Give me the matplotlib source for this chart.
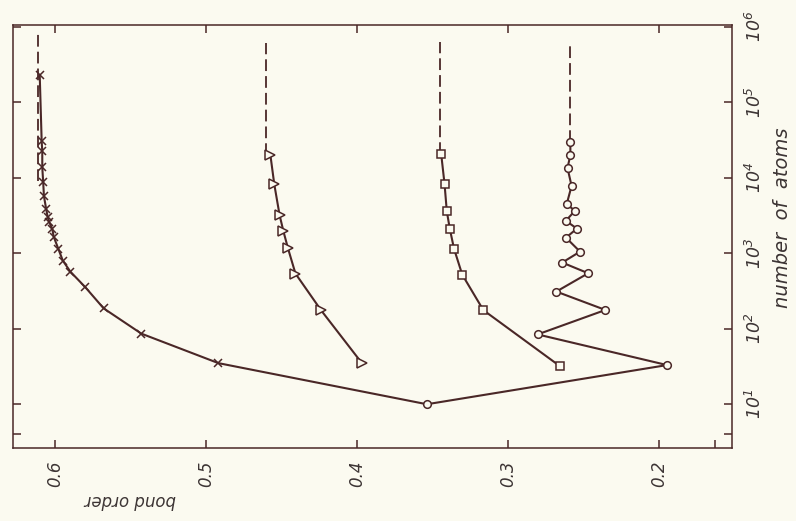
import matplotlib
matplotlib.use("Agg")
import matplotlib.pyplot as plt
import numpy as np
from matplotlib.ticker import FixedLocator

# crosses: number of atoms / bond order
cross_n = np.array([35, 86, 186, 352, 569, 796, 1143, 1644, 2092, 2580, 3000,
                    3800, 5690, 8700, 13700, 22300, 30100, 229000])
cross_b = np.array([0.492, 0.543, 0.568, 0.580, 0.590, 0.595, 0.598, 0.601, 0.602,
                    0.604, 0.605, 0.606, 0.6075, 0.608, 0.6086, 0.6086, 0.609, 0.6103])

# triangles
tri_n = np.array([35, 175, 537, 1170, 1960, 3190, 8130, 20000])
tri_b = np.array([0.397, 0.424, 0.441, 0.446, 0.449, 0.4515, 0.455, 0.4576])

# squares
sq_n = np.array([32, 176, 520, 1140, 2090, 3580, 8240, 20400])
sq_b = np.array([0.266, 0.3166, 0.3306, 0.336, 0.3388, 0.3408, 0.3423, 0.3445])

# circles (first point shared with the cross curve)
circ_n = np.array([10, 33, 84, 177, 310, 542, 751, 1047, 1603, 2114, 2685, 3630,
                   4470, 7770, 13400, 19900, 29600])
circ_b = np.array([0.354, 0.195, 0.2807, 0.2358, 0.2683, 0.2472, 0.2644, 0.2526,
                   0.2619, 0.2547, 0.262, 0.256, 0.2614, 0.2582, 0.2609, 0.259, 0.259])

# dashed limits for N -> infinity
asym_b = [0.6115, 0.4605, 0.345, 0.2593]
asym_lo = [8900, 20000, 20400, 29600]
asym_hi = [890000, 600000, 630000, 560000]

bond_ticks = [0.6, 0.5, 0.4, 0.3, 0.2]
atom_ticks = [1e1, 1e2, 1e3, 1e4, 1e5, 1e6]
atom_labels = ['$10^{1}$', '$10^{2}$', '$10^{3}$', '$10^{4}$', '$10^{5}$', '$10^{6}$']

bg = '#fbfaf0'
ink = '#4a2727'
txt = '#3c3434'

plt.rcParams['font.family'] = ['DejaVu Sans']
plt.rcParams['font.style'] = 'italic'
plt.rcParams['mathtext.default'] = 'it'

fig = plt.figure(figsize=(7.96, 5.21), dpi=100, facecolor=bg)
ax = fig.add_axes([0.0163, 0.14, 0.9033, 0.812])
ax.set_facecolor(bg)

lw = 1.5
dash = (6.5, 2.8)

# cross curve starts from the 10-atom circle
ax.plot(np.concatenate([[circ_b[0]], cross_b]), np.concatenate([[circ_n[0]], cross_n]),
        color=ink, lw=lw, zorder=2)
ax.plot(cross_b, cross_n, ls='none', marker='x', ms=6, mew=1.1, color=ink, zorder=3)

ax.plot(tri_b, tri_n, color=ink, lw=lw, marker='>', ms=7, mew=1.1, mfc=bg, mec=ink, zorder=3)
ax.plot(sq_b, sq_n, color=ink, lw=lw, marker='s', ms=6, mew=1.1, mfc=bg, mec=ink, zorder=3)
ax.plot(circ_b, circ_n, color=ink, lw=lw, marker='o', ms=5.5, mew=1.1, mfc=bg, mec=ink, zorder=3)

for b, lo, hi in zip(asym_b, asym_lo, asym_hi):
    ax.plot([b, b], [lo, hi], color=ink, lw=1.3, dashes=dash, zorder=1)

ax.set_yscale('log')
ax.set_xlim(0.628, 0.152)
ax.set_ylim(10 ** 0.42, 10 ** 6.02)

ax.xaxis.set_major_locator(FixedLocator(bond_ticks))
ax.set_xticklabels([f'{v:.1f}' for v in bond_ticks], rotation=90, fontsize=12, color=txt)
ax.xaxis.set_minor_locator(FixedLocator([0.163]))

ax.yaxis.set_major_locator(FixedLocator(atom_ticks))
ax.yaxis.set_minor_locator(FixedLocator([4]))
ax.set_yticklabels(atom_labels, rotation=90, fontsize=12.5, color=txt, va='center')

ax.tick_params(which='both', direction='in', color=ink, width=1.1)
ax.tick_params(which='major', length=6, top=True, right=True, left=True, bottom=True,
               labelleft=False, labelright=True, labelbottom=True)
ax.tick_params(which='minor', length=6, top=False, bottom=True, left=True, right=True)
ax.tick_params(axis='x', pad=9)
ax.tick_params(axis='y', pad=9)

for s in ax.spines.values():
    s.set_color(ink)
    s.set_linewidth(1.1)

fig.text(130 / 796, 1 - 500 / 521, 'bond order', rotation=180, ha='center', va='center',
         fontsize=12, color=txt)
fig.text(783 / 796, 1 - 218 / 521, 'number  of  atoms', rotation=90, ha='center', va='center',
         fontsize=14, color=txt)

fig.savefig('out.png', dpi=100, facecolor=bg)
